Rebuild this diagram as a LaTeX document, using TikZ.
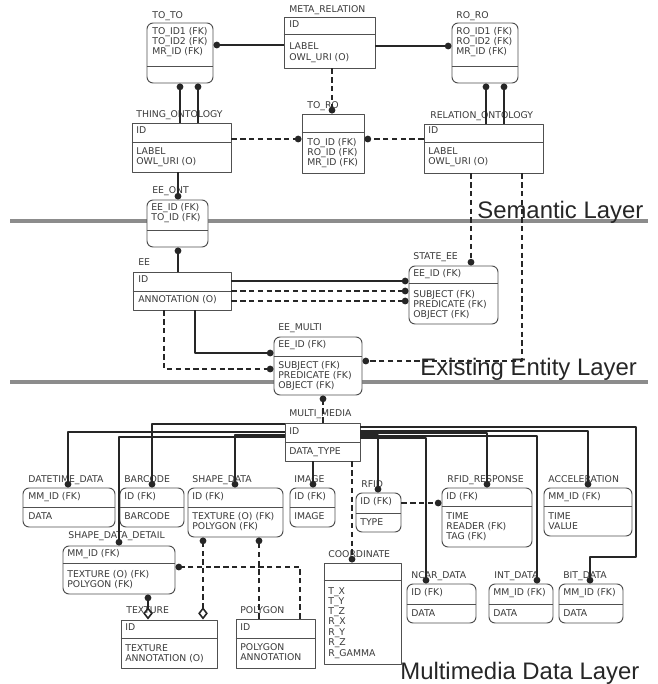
\documentclass[tikz,border=0pt]{standalone}
\usepackage{fontspec}
\setmainfont{Liberation Sans}
\newfontfamily\entfont{DejaVu Sans}
\usetikzlibrary{arrows.meta,fit}
\definecolor{boxc}{HTML}{505050}
\definecolor{txtc}{HTML}{3A3A3A}
\definecolor{linec}{HTML}{262626}
\definecolor{layerc}{HTML}{8C8C8C}
\newcommand{\rowfont}{\entfont\fontsize{5.3}{6}\selectfont}
\newcommand{\layerfont}{\fontsize{13.6}{15}\selectfont}
\tikzset{
  every picture/.style={line join=round, >=Stealth},
  ent/.style={draw=boxc, fill=white, line width=0.55pt, inner sep=0pt},
  rent/.style={ent, rounded corners=3.5pt},
  divline/.style={draw=boxc, line width=0.55pt},
  lbl/.style={font=\rowfont, text=txtc, anchor=base west, inner sep=0pt},
  rel/.style={draw=linec, line width=0.9pt},
  opt/.style={rel, dash pattern=on 3pt off 2pt},
  fk/.style={arrows={-Circle[length=3.8pt]}},
  agg/.style={arrows={Diamond[open,length=7pt,width=5.5pt]-Circle[length=3.8pt]}},
  layer/.style={draw=layerc, line width=2.2pt},
  layertxt/.style={font=\layerfont, text=black!85, anchor=base west, inner sep=0pt},
}

\begin{document}
\begin{tikzpicture}[x=0.02cm, y=-0.02cm]
\useasboundingbox (0,0) rectangle (657,684);

% layers
\draw[layer] (10,221) -- (648,221);
\draw[layer] (10,382) -- (648,382);
\node[layertxt] (semantic) at (477,218) {Semantic Layer};
\node[layertxt] (existing) at (420,375) {Existing Entity Layer};
\node[layertxt] (multimedia) at (400,679) {Multimedia Data Layer};

% semantic layer
\node[rent, fit={(147,23) (213,83)}] (toto) {};
\draw[divline] (toto.west |- 0,66) -- (toto.east |- 0,66);
\node[lbl] (toto-l) at (152,18) {TO\_TO};
\node[lbl] (toto-1) at (152,34) {TO\_ID1 (FK)};
\node[lbl] (toto-2) at (152,44) {TO\_ID2 (FK)};
\node[lbl] (toto-3) at (152,54) {MR\_ID (FK)};

\node[ent, fit={(284,17) (375,68)}] (meta) {};
\draw[divline] (meta.west |- 0,34) -- (meta.east |- 0,34);
\node[lbl] (meta-l) at (289,12) {META\_RELATION};
\node[lbl] (meta-1) at (289,27) {ID};
\node[lbl] (meta-2) at (289,49) {LABEL};
\node[lbl] (meta-3) at (289,60) {OWL\_URI (O)};

\node[rent, fit={(452,23) (518,83)}] (roro) {};
\draw[divline] (roro.west |- 0,66) -- (roro.east |- 0,66);
\node[lbl] (roro-l) at (456,18) {RO\_RO};
\node[lbl] (roro-1) at (456,34) {RO\_ID1 (FK)};
\node[lbl] (roro-2) at (456,44) {RO\_ID2 (FK)};
\node[lbl] (roro-3) at (456,54) {MR\_ID (FK)};

\node[ent, fit={(132,123) (231,172)}] (thing) {};
\draw[divline] (thing.west |- 0,142) -- (thing.east |- 0,142);
\node[lbl] (thing-l) at (136,117) {THING\_ONTOLOGY};
\node[lbl] (thing-1) at (136,133) {ID};
\node[lbl] (thing-2) at (136,154) {LABEL};
\node[lbl] (thing-3) at (136,164) {OWL\_URI (O)};

\node[ent, fit={(302,114) (364,173)}] (toro) {};
\draw[divline] (toro.west |- 0,132) -- (toro.east |- 0,132);
\node[lbl] (toro-l) at (307,108) {TO\_RO};
\node[lbl] (toro-1) at (307,145) {TO\_ID (FK)};
\node[lbl] (toro-2) at (307,155) {RO\_ID (FK)};
\node[lbl] (toro-3) at (307,165) {MR\_ID (FK)};

\node[ent, fit={(424,124) (543,173)}] (relo) {};
\draw[divline] (relo.west |- 0,142) -- (relo.east |- 0,142);
\node[lbl] (relo-l) at (430,118) {RELATION\_ONTOLOGY};
\node[lbl] (relo-1) at (428,133) {ID};
\node[lbl] (relo-2) at (428,154) {LABEL};
\node[lbl] (relo-3) at (428,164) {OWL\_URI (O)};

\node[rent, fit={(147,200) (208,247)}] (eeont) {};
\draw[divline] (eeont.west |- 0,230) -- (eeont.east |- 0,230);
\node[lbl] (eeont-l) at (152,193) {EE\_ONT};
\node[lbl] (eeont-1) at (151,210) {EE\_ID (FK)};
\node[lbl] (eeont-2) at (151,220) {TO\_ID (FK)};

% existing entity layer
\node[ent, fit={(133,272) (231,310)}] (ee) {};
\draw[divline] (ee.west |- 0,291) -- (ee.east |- 0,291);
\node[lbl] (ee-l) at (138,265) {EE};
\node[lbl] (ee-1) at (138,282) {ID};
\node[lbl] (ee-2) at (138,302) {ANNOTATION (O)};

\node[rent, fit={(409,266) (498,324)}] (stee) {};
\draw[divline] (stee.west |- 0,283) -- (stee.east |- 0,283);
\node[lbl] (stee-l) at (413,259) {STATE\_EE};
\node[lbl] (stee-1) at (413,276) {EE\_ID (FK)};
\node[lbl] (stee-2) at (413,297) {SUBJECT (FK)};
\node[lbl] (stee-3) at (413,307) {PREDICATE (FK)};
\node[lbl] (stee-4) at (413,317) {OBJECT (FK)};

\node[rent, fit={(274,337) (362,395)}] (eemu) {};
\draw[divline] (eemu.west |- 0,356) -- (eemu.east |- 0,356);
\node[lbl] (eemu-l) at (278,330) {EE\_MULTI};
\node[lbl] (eemu-1) at (278,347) {EE\_ID (FK)};
\node[lbl] (eemu-2) at (278,368) {SUBJECT (FK)};
\node[lbl] (eemu-3) at (278,378) {PREDICATE (FK)};
\node[lbl] (eemu-4) at (278,388) {OBJECT (FK)};

% multimedia data layer
\node[ent, fit={(285,423) (360,461)}] (mm) {};
\draw[divline] (mm.west |- 0,442) -- (mm.east |- 0,442);
\node[lbl] (mm-l) at (289,416) {MULTI\_MEDIA};
\node[lbl] (mm-1) at (289,434) {ID};
\node[lbl] (mm-2) at (289,454) {DATA\_TYPE};

\node[rent, fit={(23,488) (115,527)}] (dtd) {};
\draw[divline] (dtd.west |- 0,507) -- (dtd.east |- 0,507);
\node[lbl] (dtd-l) at (28,482) {DATETIME\_DATA};
\node[lbl] (dtd-1) at (28,499) {MM\_ID (FK)};
\node[lbl] (dtd-2) at (28,519) {DATA};

\node[rent, fit={(120,488) (184,527)}] (barc) {};
\draw[divline] (barc.west |- 0,507) -- (barc.east |- 0,507);
\node[lbl] (barc-l) at (124,482) {BARCODE};
\node[lbl] (barc-1) at (124,499) {ID (FK)};
\node[lbl] (barc-2) at (124,519) {BARCODE};

\node[rent, fit={(188,488) (283,537)}] (shd) {};
\draw[divline] (shd.west |- 0,507) -- (shd.east |- 0,507);
\node[lbl] (shd-l) at (192,482) {SHAPE\_DATA};
\node[lbl] (shd-1) at (192,499) {ID (FK)};
\node[lbl] (shd-2) at (192,519) {TEXTURE (O) (FK)};
\node[lbl] (shd-3) at (192,529) {POLYGON (FK)};

\node[rent, fit={(290,488) (335,527)}] (img) {};
\draw[divline] (img.west |- 0,507) -- (img.east |- 0,507);
\node[lbl] (img-l) at (294,482) {IMAGE};
\node[lbl] (img-1) at (294,499) {ID (FK)};
\node[lbl] (img-2) at (294,519) {IMAGE};

\node[rent, fit={(356,493) (401,532)}] (rfid) {};
\draw[divline] (rfid.west |- 0,513) -- (rfid.east |- 0,513);
\node[lbl] (rfid-l) at (361,487) {RFID};
\node[lbl] (rfid-1) at (360,504) {ID (FK)};
\node[lbl] (rfid-2) at (360,525) {TYPE};

\node[rent, fit={(442,488) (532,547)}] (rfre) {};
\draw[divline] (rfre.west |- 0,506) -- (rfre.east |- 0,506);
\node[lbl] (rfre-l) at (447,482) {RFID\_RESPONSE};
\node[lbl] (rfre-1) at (446,499) {ID (FK)};
\node[lbl] (rfre-2) at (446,519) {TIME};
\node[lbl] (rfre-3) at (446,529) {READER (FK)};
\node[lbl] (rfre-4) at (446,539) {TAG (FK)};

\node[rent, fit={(544,488) (632,536)}] (accel) {};
\draw[divline] (accel.west |- 0,506) -- (accel.east |- 0,506);
\node[lbl] (accel-l) at (548,482) {ACCELERATION};
\node[lbl] (accel-1) at (548,499) {MM\_ID (FK)};
\node[lbl] (accel-2) at (548,519) {TIME};
\node[lbl] (accel-3) at (548,529) {VALUE};

\node[rent, fit={(63,546) (175,594)}] (sdd) {};
\draw[divline] (sdd.west |- 0,563) -- (sdd.east |- 0,563);
\node[lbl] (sdd-l) at (68,538) {SHAPE\_DATA\_DETAIL};
\node[lbl] (sdd-1) at (67,556) {MM\_ID (FK)};
\node[lbl] (sdd-2) at (67,577) {TEXTURE (O) (FK)};
\node[lbl] (sdd-3) at (67,587) {POLYGON (FK)};

\node[ent, fit={(121,620) (217,668)}] (tex) {};
\draw[divline] (tex.west |- 0,638) -- (tex.east |- 0,638);
\node[lbl] (tex-l) at (126,613) {TEXTURE};
\node[lbl] (tex-1) at (125,630) {ID};
\node[lbl] (tex-2) at (125,651) {TEXTURE};
\node[lbl] (tex-3) at (125,661) {ANNOTATION (O)};

\node[ent, fit={(236,619) (315,668)}] (poly) {};
\draw[divline] (poly.west |- 0,638) -- (poly.east |- 0,638);
\node[lbl] (poly-l) at (240,613) {POLYGON};
\node[lbl] (poly-1) at (240,630) {ID};
\node[lbl] (poly-2) at (240,650) {POLYGON};
\node[lbl] (poly-3) at (240,660) {ANNOTATION};

\node[ent, fit={(324,563) (401,664)}] (coord) {};
\draw[divline] (coord.west |- 0,580) -- (coord.east |- 0,580);
\node[lbl] (coord-l) at (328,557) {COORDINATE};
\node[lbl] (coord-1) at (328,594) {T\_X};
\node[lbl] (coord-2) at (328,604) {T\_Y};
\node[lbl] (coord-3) at (328,614) {T\_Z};
\node[lbl] (coord-4) at (328,624) {R\_X};
\node[lbl] (coord-5) at (328,635) {R\_Y};
\node[lbl] (coord-6) at (328,645) {R\_Z};
\node[lbl] (coord-7) at (328,656) {R\_GAMMA};

\node[rent, fit={(407,584) (476,623)}] (ncar) {};
\draw[divline] (ncar.west |- 0,604) -- (ncar.east |- 0,604);
\node[lbl] (ncar-l) at (411,578) {NCAR\_DATA};
\node[lbl] (ncar-1) at (411,595) {ID (FK)};
\node[lbl] (ncar-2) at (411,616) {DATA};

\node[rent, fit={(489,584) (553,623)}] (intd) {};
\draw[divline] (intd.west |- 0,604) -- (intd.east |- 0,604);
\node[lbl] (intd-l) at (494,578) {INT\_DATA};
\node[lbl] (intd-1) at (493,595) {MM\_ID (FK)};
\node[lbl] (intd-2) at (493,616) {DATA};

\node[rent, fit={(559,584) (623,623)}] (bitd) {};
\draw[divline] (bitd.west |- 0,604) -- (bitd.east |- 0,604);
\node[lbl] (bitd-l) at (563,578) {BIT\_DATA};
\node[lbl] (bitd-1) at (563,595) {MM\_ID (FK)};
\node[lbl] (bitd-2) at (563,616) {DATA};

% relations, semantic layer
\draw[rel, fk] (meta.west |- 0,45) -- (toto.east |- 0,45);
\draw[rel, fk] (meta.east |- 0,46) -- (roro.west |- 0,46);
\draw[opt, fk] (meta.south -| 332,0) -- (toro.north -| 332,0);
\draw[rel, fk] (thing.north -| 180,0) -- (toto.south -| 180,0);
\draw[rel, fk] (thing.north -| 198,0) -- (toto.south -| 198,0);
\draw[rel, fk] (relo.north -| 486,0) -- (roro.south -| 486,0);
\draw[rel, fk] (relo.north -| 504,0) -- (roro.south -| 504,0);
\draw[opt, fk] (thing.east |- 0,139) -- (toro.west |- 0,139);
\draw[opt, fk] (relo.west |- 0,139) -- (toro.east |- 0,139);
\draw[rel, fk] (thing.south -| 178,0) -- (eeont.north -| 178,0);
\draw[rel, fk] (ee.north -| 178,0) -- (eeont.south -| 178,0);

% relations, existing entity layer
\draw[opt, fk] (relo.south -| 471,0) -- (stee.north -| 471,0);
\draw[opt, fk] (relo.south -| 522,0) |- (eemu.east |- 0,361);
\draw[rel, fk] (ee.east |- 0,281) -- (stee.west |- 0,281);
\draw[opt, fk] (ee.east |- 0,291) -- (stee.west |- 0,291);
\draw[opt, fk] (ee.east |- 0,301) -- (stee.west |- 0,301);
\draw[rel, fk] (ee.south -| 195,0) |- (eemu.west |- 0,353);
\draw[opt, fk] (ee.south -| 164,0) |- (eemu.west |- 0,369);
\draw[opt, fk] (mm.north -| 323,0) -- (eemu.south -| 323,0);

% relations, multimedia data layer
\draw[rel, fk] (mm.west |- 0,424) -| (barc.north -| 152,0);
\draw[rel, fk] (mm.west |- 0,432) -| (dtd.north -| 68,0);
\draw[rel, fk] (mm.west |- 0,435) -| (shd.north -| 235,0);
\draw[rel, fk] (mm.west |- 0,437) -| (sdd.north -| 119,0);
\draw[rel, fk] (mm.south -| 313,0) -- (img.north -| 313,0);
\draw[opt, fk] (mm.south -| 352,0) -- (coord.north -| 352,0);
\draw[rel, fk] (mm.east |- 0,427) -| (636,557) -| (bitd.north -| 590,0);
\draw[rel, fk] (mm.east |- 0,431) -| (accel.north -| 588,0);
\draw[rel, fk] (mm.east |- 0,433) -| (rfre.north -| 487,0);
\draw[rel, fk] (mm.east |- 0,435) -| (rfid.north -| 378,0);
\draw[rel, fk] (mm.east |- 0,436) -| (intd.north -| 537,0);
\draw[rel, fk] (mm.east |- 0,438) -| (ncar.north -| 426,0);
\draw[opt, fk] (rfid.east |- 0,503) -- (rfre.west |- 0,503);
\draw[opt, agg] (tex.north -| 203,0) -- (shd.south -| 203,0);
\draw[opt, fk] (poly.north -| 259,0) -- (shd.south -| 259,0);
\draw[rel, agg] (tex.north -| 148,0) -- (sdd.south -| 148,0);
\draw[opt, fk] (poly.north -| 300,0) |- (sdd.east |- 0,567);
\end{tikzpicture}
\end{document}
